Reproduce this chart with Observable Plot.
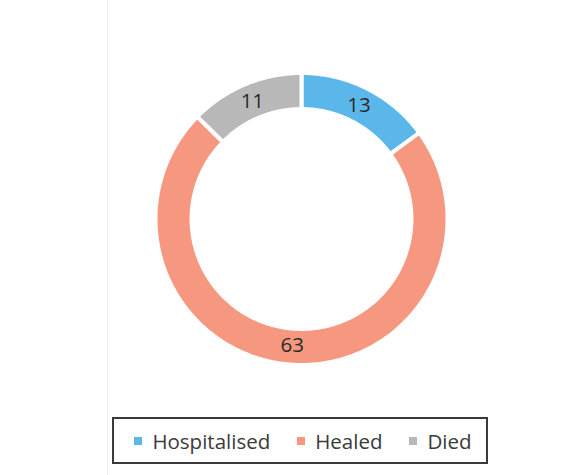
<!DOCTYPE html>
<html>
<head>
<meta charset="utf-8">
<script src="https://cdn.jsdelivr.net/npm/d3@7"></script>
<script src="https://cdn.jsdelivr.net/npm/@observablehq/plot@0.6"></script>
<style>
  html, body { margin: 0; padding: 0; background: #fff; }
  body { width: 588px; height: 475px; overflow: hidden; position: relative; font-family: "Open Sans", sans-serif; }
  #edge { position: absolute; left: 107px; top: 0; width: 1px; height: 475px; background: #ededed; }
  #legend {
    position: absolute; left: 112px; top: 417px; width: 376px; height: 47px;
    box-sizing: border-box; border: 2px solid #3a3a3a;
    display: flex; align-items: center; justify-content: center; gap: 27px;
    font-size: 20.5px; color: #3a3a3a; padding-left: 6px;
  }
  .item { display: flex; align-items: center; gap: 10px; }
  .sw { width: 8px; height: 8px; display: inline-block; }
</style>
</head>
<body>
<div id="edge"></div>
<div id="chart"></div>
<div id="legend"></div>
<script>
const labels = ["Hospitalised", "Healed", "Died"];
const values = [13, 63, 11];
const colors = ["#5bb7ea", "#f6987f", "#b8b8b8"];

const rOuter = 1, rInner = 0.753, rLabel = 0.87;
const arcs = d3.pie().sort(null).value(d => d)(values);

const pts = arcs.flatMap((a, i) => {
  const span = a.endAngle - a.startAngle;
  const n = Math.max(2, Math.ceil(span / 0.01));
  const out = [];
  for (let k = 0; k <= n; k++) {
    const t = a.startAngle + span * k / n;
    out.push({label: labels[i], x: rOuter * Math.sin(t), y: rOuter * Math.cos(t)});
  }
  for (let k = n; k >= 0; k--) {
    const t = a.startAngle + span * k / n;
    out.push({label: labels[i], x: rInner * Math.sin(t), y: rInner * Math.cos(t)});
  }
  return out;
});

const labelData = arcs.map((a, i) => {
  const m = (a.startAngle + a.endAngle) / 2;
  return {x: rLabel * Math.sin(m), y: rLabel * Math.cos(m), text: String(values[i])};
});

const chart = Plot.plot({
  width: 588,
  height: 400,
  marginLeft: 155,
  marginRight: 141,
  marginTop: 72.5,
  marginBottom: 35.5,
  x: {domain: [-1, 1], axis: null},
  y: {domain: [-1, 1], axis: null},
  color: {domain: labels, range: colors},
  style: {background: "white", fontFamily: "Open Sans, sans-serif"},
  marks: [
    Plot.line(pts, {x: "x", y: "y", z: "label", fill: "label", stroke: "white", strokeWidth: 4, curve: "linear-closed"}),
    Plot.text(labelData, {x: "x", y: "y", text: "text", fontSize: 20.5, fill: "#2b2b2b"})
  ]
});
document.getElementById("chart").appendChild(chart);

const legend = document.getElementById("legend");
labels.forEach((l, i) => {
  const item = document.createElement("span");
  item.className = "item";
  const sw = document.createElement("span");
  sw.className = "sw";
  sw.style.background = colors[i];
  const tx = document.createElement("span");
  tx.textContent = l;
  item.appendChild(sw);
  item.appendChild(tx);
  legend.appendChild(item);
});
</script>
</body>
</html>
